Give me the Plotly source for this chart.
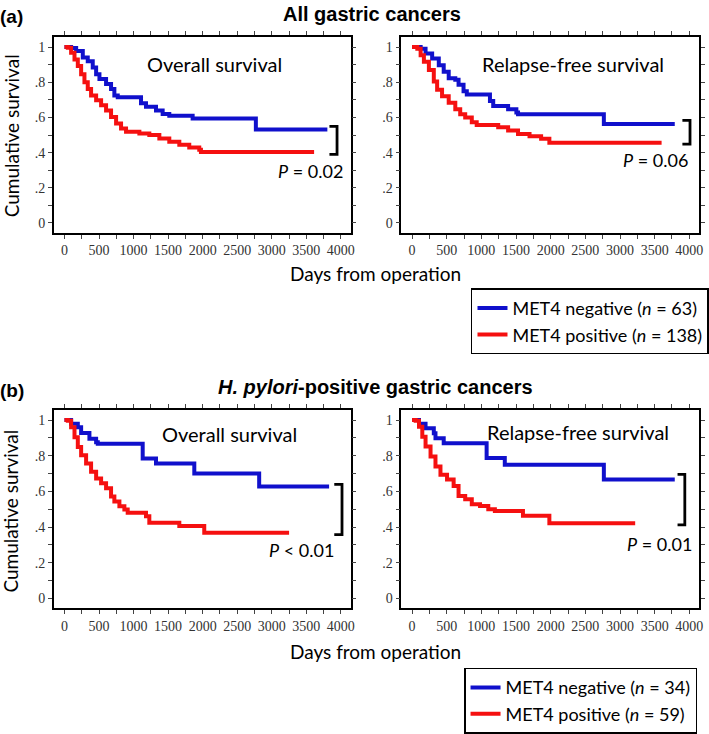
import plotly.graph_objects as go

# Kaplan-Meier step points (days, cumulative survival)
# (a) all gastric cancers - overall survival
os_all_neg_t = [0, 96, 169, 265, 337, 409, 458, 506, 602, 674, 722, 771, 1108, 1180, 1325, 1421, 1517, 1855, 2770, 3805]
os_all_neg_s = [1.0, 0.995, 0.977, 0.94, 0.92, 0.884, 0.846, 0.818, 0.79, 0.762, 0.725, 0.715, 0.68, 0.66, 0.64, 0.62, 0.61, 0.594, 0.532, 0.532]
os_all_pos_t = [0, 48, 96, 145, 193, 241, 289, 337, 385, 458, 530, 602, 674, 747, 819, 891, 1084, 1228, 1373, 1517, 1662, 1806, 1951, 1975, 3613]
os_all_pos_s = [1.0, 0.996, 0.968, 0.93, 0.893, 0.846, 0.80, 0.762, 0.725, 0.697, 0.669, 0.64, 0.603, 0.566, 0.537, 0.519, 0.509, 0.50, 0.48, 0.462, 0.444, 0.429, 0.416, 0.403, 0.403]
# (a) all gastric cancers - relapse-free survival
rfs_all_neg_t = [0, 124, 195, 290, 386, 457, 529, 624, 671, 743, 790, 1124, 1171, 1386, 1505, 1529, 2767, 3790]
rfs_all_neg_s = [1.0, 0.99, 0.963, 0.935, 0.897, 0.86, 0.823, 0.814, 0.786, 0.749, 0.73, 0.693, 0.665, 0.646, 0.628, 0.618, 0.562, 0.562]
rfs_all_pos_t = [0, 76, 124, 171, 243, 314, 362, 433, 529, 624, 695, 767, 862, 933, 1243, 1386, 1529, 1695, 1862, 1981, 3600]
rfs_all_pos_s = [1.0, 0.99, 0.953, 0.916, 0.87, 0.804, 0.758, 0.72, 0.683, 0.646, 0.618, 0.60, 0.572, 0.557, 0.544, 0.525, 0.506, 0.493, 0.479, 0.456, 0.456]
# (b) H. pylori-positive - overall survival
os_hp_neg_t = [0, 96, 193, 241, 361, 458, 482, 1132, 1325, 1879, 2818, 3830]
os_hp_neg_s = [1.0, 0.98, 0.96, 0.928, 0.895, 0.876, 0.867, 0.784, 0.756, 0.70, 0.627, 0.627]
os_hp_pos_t = [0, 48, 96, 145, 193, 241, 313, 385, 458, 530, 602, 674, 722, 795, 867, 915, 1180, 1228, 1662, 2023, 3251]
os_hp_pos_s = [1.0, 0.996, 0.96, 0.904, 0.849, 0.803, 0.756, 0.71, 0.673, 0.646, 0.618, 0.572, 0.544, 0.517, 0.498, 0.48, 0.461, 0.424, 0.406, 0.369, 0.369]
# (b) H. pylori-positive - relapse-free survival
rfs_hp_neg_t = [0, 100, 195, 314, 338, 457, 1076, 1338, 2767, 3790]
rfs_hp_neg_s = [1.0, 0.98, 0.954, 0.926, 0.898, 0.87, 0.787, 0.75, 0.667, 0.667]
rfs_hp_pos_t = [0, 52, 100, 148, 195, 267, 338, 410, 505, 600, 671, 767, 862, 981, 1100, 1195, 1600, 1981, 3219]
rfs_hp_pos_s = [1.0, 0.996, 0.963, 0.907, 0.852, 0.796, 0.74, 0.694, 0.667, 0.63, 0.574, 0.556, 0.528, 0.519, 0.50, 0.49, 0.463, 0.422, 0.422]

x_ticks = [0, 500, 1000, 1500, 2000, 2500, 3000, 3500, 4000]
y_ticks = [0, 0.2, 0.4, 0.6, 0.8, 1]
y_ticktext = ["0", ".2", ".4", ".6", ".8", "1"]

panel_a = ["All gastric cancers", "MET4 negative (<i>n</i> = 63)", "MET4 positive (<i>n</i> = 138)"]
panel_b = ["<i>H. pylori</i>-positive gastric cancers", "MET4 negative (<i>n</i> = 34)", "MET4 positive (<i>n</i> = 59)"]
p_values = ["<i>P</i> = 0.02", "<i>P</i> = 0.06", "<i>P</i> < 0.01", "<i>P</i> = 0.01"]

BLUE = "#1010CC"
RED = "#F51010"
TXT = "Lato"
W, H = 709, 734

fig = go.Figure()

panels = [
    ("x", "y", (os_all_neg_t, os_all_neg_s), (os_all_pos_t, os_all_pos_s), "legend", panel_a, True),
    ("x2", "y2", (rfs_all_neg_t, rfs_all_neg_s), (rfs_all_pos_t, rfs_all_pos_s), "legend", panel_a, False),
    ("x3", "y3", (os_hp_neg_t, os_hp_neg_s), (os_hp_pos_t, os_hp_pos_s), "legend2", panel_b, True),
    ("x4", "y4", (rfs_hp_neg_t, rfs_hp_neg_s), (rfs_hp_pos_t, rfs_hp_pos_s), "legend2", panel_b, False),
]
for xa, ya, neg, pos, leg, labels, show in panels:
    fig.add_trace(go.Scatter(x=neg[0], y=neg[1], mode="lines", line=dict(color=BLUE, width=4, shape="hv"),
                             name=labels[1], xaxis=xa, yaxis=ya, legend=leg, showlegend=show))
    fig.add_trace(go.Scatter(x=pos[0], y=pos[1], mode="lines", line=dict(color=RED, width=4, shape="hv"),
                             name=labels[2], xaxis=xa, yaxis=ya, legend=leg, showlegend=show))

tickfont = dict(family="Liberation Sans Narrow", size=14, color="#333")
xdoms = [[54 / W, 352 / W], [403 / W, 702 / W]]
ydoms = [[1 - 235.7 / H, 1 - 37.5 / H], [1 - 616 / H, 1 - 415 / H]]

def xaxis(dom):
    return dict(domain=dom, range=[-155, 4140], tickvals=x_ticks, ticks="outside", ticklen=4, tickwidth=1,
                minor=dict(tickvals=list(range(250, 4000, 500)), ticks="outside", ticklen=4, tickwidth=1),
                showline=True, linecolor="black", linewidth=1.5, mirror="allticks", showgrid=False,
                zeroline=False, tickfont=tickfont, fixedrange=True, ticklabeloverflow="allow")

def yaxis(dom, anchor):
    return dict(domain=dom, range=[-0.056, 1.057], tickvals=y_ticks, ticktext=y_ticktext, ticks="outside",
                ticklen=4, tickwidth=1, minor=dict(tickvals=[0.1, 0.3, 0.5, 0.7, 0.9], ticks="outside", ticklen=4, tickwidth=1),
                showline=True, linecolor="black", linewidth=1.5, mirror="allticks", showgrid=False,
                zeroline=False, tickfont=tickfont, anchor=anchor, fixedrange=True)

fig.update_layout(
    xaxis=dict(xaxis(xdoms[0]), anchor="y"),
    yaxis=yaxis(ydoms[0], "x"),
    xaxis2=dict(xaxis(xdoms[1]), anchor="y2"),
    yaxis2=yaxis(ydoms[0], "x2"),
    xaxis3=dict(xaxis(xdoms[0]), anchor="y3"),
    yaxis3=yaxis(ydoms[1], "x3"),
    xaxis4=dict(xaxis(xdoms[1]), anchor="y4"),
    yaxis4=yaxis(ydoms[1], "x4"),
)

# brackets next to the curve ends (data coords: x_left, x_right, y_top, y_bottom)
brackets = [("x", "y", 3835, 3945, 0.549, 0.39), ("x2", "y2", 3900, 4010, 0.583, 0.448),
            ("x3", "y3", 3905, 4017, 0.64, 0.358), ("x4", "y4", 3830, 3935, 0.696, 0.413)]
for xa, ya, xl, xr, yt, yb in brackets:
    fig.add_shape(type="path", xref=xa, yref=ya, path=f"M {xl},{yt} L {xr},{yt} L {xr},{yb} L {xl},{yb}",
                  line=dict(color="black", width=2.8))

def ann(text, px, py, size=18, family=TXT, **kw):
    fig.add_annotation(text=text, x=px / W, y=1 - py / H, xref="paper", yref="paper", showarrow=False,
                       xanchor="center", yanchor="middle",
                       font=dict(family=family, size=size, color="black"), **kw)

ann("<b>(a)</b>", 12, 17, size=19, family="Liberation Sans")
ann("<b>(b)</b>", 12, 395, size=19, family="Liberation Sans")
ann("<b>" + panel_a[0] + "</b>", 374, 14, size=20, family="Liberation Sans")
ann("<b>" + panel_b[0] + "</b>", 377, 392, size=20, family="Liberation Sans")

ann("Cumulative survival", 11, 137, size=19, textangle=-90)
ann("Cumulative survival", 11, 517, size=19, textangle=-90)
ann("Days from operation", 377, 277, size=19)
ann("Days from operation", 377, 660, size=19)

ann("Overall survival", 215, 65, size=20)
ann("Relapse-free survival", 575, 65, size=20)
ann("Overall survival", 230, 439, size=20)
ann("Relapse-free survival", 580, 437, size=20)

ann(p_values[0], 312, 173)
ann(p_values[1], 658, 162)
ann(p_values[2], 303, 557)
ann(p_values[3], 662, 551)

legfont = dict(family=TXT, size=18, color="black")
fig.update_layout(
    width=W, height=H, margin=dict(l=0, r=0, t=0, b=0),
    paper_bgcolor="white", plot_bgcolor="white",
    legend=dict(x=712 / W, y=1 - 292 / H, xanchor="right", yanchor="top", bordercolor="black", borderwidth=1.5,
                font=legfont, bgcolor="white", tracegroupgap=0),
    legend2=dict(x=700 / W, y=1 - 676 / H, xanchor="right", yanchor="top", bordercolor="black", borderwidth=1.5,
                 font=legfont, bgcolor="white", tracegroupgap=0),
)

fig.write_html("out.html", post_script="document.body.style.margin='0';",
               config={"displayModeBar": False})
